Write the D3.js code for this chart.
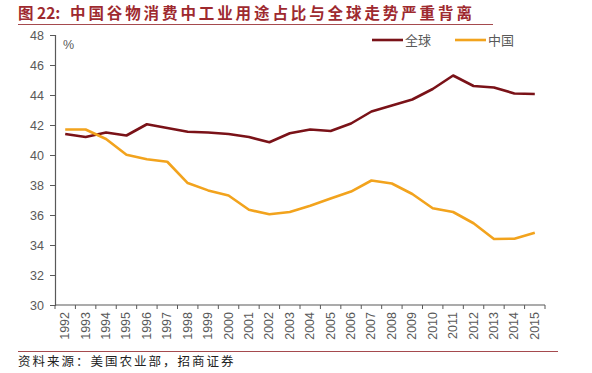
<!DOCTYPE html>
<html>
<head>
<meta charset="utf-8">
<script src="https://cdn.jsdelivr.net/npm/d3@7"></script>
<style>
  body { margin: 0; background: #fff; }
  svg { display: block; }
</style>
</head>
<body>
<svg id="chart" width="592" height="373"></svg>
<script>
// data
const years = ["1992","1993","1994","1995","1996","1997","1998","1999","2000","2001","2002","2003",
  "2004","2005","2006","2007","2008","2009","2010","2011","2012","2013","2014","2015"];
const globalShare = [41.4, 41.2, 41.5, 41.3, 42.05, 41.8, 41.55, 41.5, 41.4, 41.2, 40.85, 41.45,
  41.7, 41.6, 42.1, 42.9, 43.3, 43.7, 44.4, 45.3, 44.6, 44.5, 44.1, 44.07];
const chinaShare = [41.7, 41.7, 41.07, 40.02, 39.72, 39.55, 38.13, 37.64, 37.3, 36.35, 36.05, 36.2,
  36.62, 37.1, 37.56, 38.3, 38.1, 37.4, 36.45, 36.2, 35.45, 34.4, 34.42, 34.82];
const yTicks = [30, 32, 34, 36, 38, 40, 42, 44, 46, 48];

const series = [
  { name: "全球", values: globalShare, color: "#7a1218" },
  { name: "中国", values: chinaShare, color: "#f2a31d" }
];

const svg = d3.select("#chart");
const font = "'Liberation Sans', 'Noto Sans CJK SC', sans-serif";
const grey = "#595959";

const margin = { left: 55, right: 47, top: 35, bottom: 68 };
const W = 592, H = 373;

const x = d3.scaleBand().domain(years).range([margin.left, W - margin.right]);
const y = d3.scaleLinear().domain([30, 48]).range([H - margin.bottom, margin.top]);

// title
const title = svg.append("text")
  .attr("x", 18).attr("y", 19)
  .attr("font-family", "'Noto Sans CJK SC', sans-serif")
  .attr("font-size", 15.5).attr("font-weight", "bold")
  .attr("fill", "#9e2a2f");
title.append("tspan").text("图 22:");
title.append("tspan").attr("x", 70).attr("letter-spacing", 2.9)
  .text("中国谷物消费中工业用途占比与全球走势严重背离");

svg.append("line")
  .attr("x1", 18).attr("x2", 493).attr("y1", 24.5).attr("y2", 24.5)
  .attr("stroke", "#a54a4e").attr("stroke-width", 1);

// y axis
const yAxis = svg.append("g")
  .attr("transform", `translate(${margin.left},0)`)
  .call(d3.axisLeft(y).tickValues(yTicks).tickSize(5).tickPadding(6));
yAxis.select(".domain").attr("stroke", grey).attr("stroke-width", 1.2);
yAxis.selectAll(".tick line").attr("stroke", grey);
yAxis.selectAll("text").attr("font-family", font).attr("font-size", 12.5).attr("fill", grey);

// x axis: ticks at band edges
const xAxisG = svg.append("g").attr("transform", `translate(0,${y(30)})`);
xAxisG.append("line")
  .attr("x1", margin.left).attr("x2", W - margin.right)
  .attr("stroke", grey).attr("stroke-width", 1.2);
const edges = years.map(d => x(d)).concat([x(years[years.length - 1]) + x.bandwidth()]);
xAxisG.selectAll(".edge").data(edges).join("line")
  .attr("class", "edge")
  .attr("x1", d => d).attr("x2", d => d)
  .attr("y1", 0).attr("y2", 4)
  .attr("stroke", grey);
xAxisG.selectAll(".lab").data(years).join("text")
  .attr("class", "lab")
  .attr("transform", d => `translate(${x(d) + x.bandwidth() / 2 + 4},7) rotate(-90)`)
  .attr("text-anchor", "end")
  .attr("font-family", font).attr("font-size", 12.5).attr("fill", grey)
  .text(d => d);

// unit
svg.append("text")
  .attr("x", 63).attr("y", 49)
  .attr("font-family", font).attr("font-size", 12.5).attr("fill", grey)
  .text("%");

// lines
const line = d3.line()
  .x((d, i) => x(years[i]) + x.bandwidth() / 2)
  .y(d => y(d));

svg.selectAll(".series").data(series).join("path")
  .attr("class", "series")
  .attr("d", d => line(d.values))
  .attr("fill", "none")
  .attr("stroke", d => d.color)
  .attr("stroke-width", 2.6)
  .attr("stroke-linejoin", "round");

// legend
const legend = svg.selectAll(".leg").data(series).join("g")
  .attr("class", "leg")
  .attr("transform", (d, i) => `translate(${372 + i * 83},40)`);
legend.append("line")
  .attr("x1", 0).attr("x2", 31)
  .attr("stroke", d => d.color).attr("stroke-width", 2.6);
legend.append("text")
  .attr("x", 33).attr("y", 5)
  .attr("font-family", "'Noto Sans CJK SC', sans-serif")
  .attr("font-size", 13).attr("fill", grey)
  .text(d => d.name);

// source
svg.append("line")
  .attr("x1", 18).attr("x2", 558).attr("y1", 351.5).attr("y2", 351.5)
  .attr("stroke", "#a54a4e").attr("stroke-width", 1);
svg.append("text")
  .attr("x", 18).attr("y", 366)
  .attr("font-family", "'Noto Sans CJK SC', sans-serif")
  .attr("font-size", 12.5).attr("letter-spacing", 2).attr("fill", "#222")
  .text("资料来源：美国农业部，招商证券");
</script>
</body>
</html>
